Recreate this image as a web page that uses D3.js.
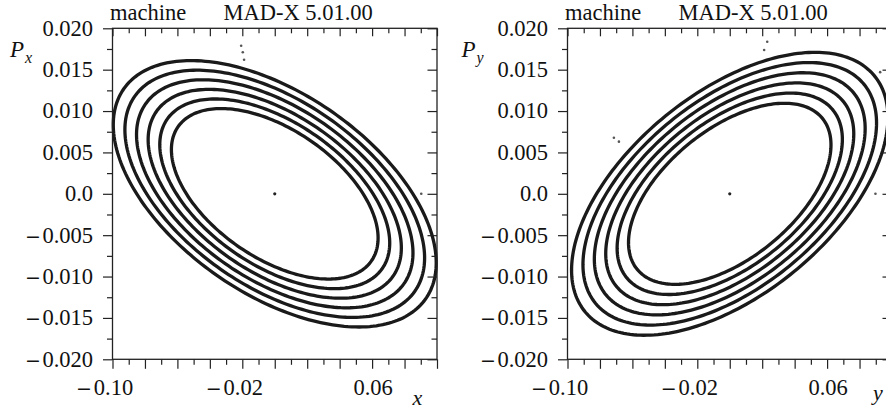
<!DOCTYPE html>
<html><head><meta charset="utf-8">
<script src="https://cdn.jsdelivr.net/npm/d3@7"></script>
<style>
html,body{margin:0;padding:0;background:#fff;overflow:hidden;}
svg text{font-family:"Liberation Serif","Times New Roman",serif;fill:#111;}
</style></head><body>
<svg id="chart" width="886" height="410"></svg>
<script>
// ---------------- data ----------------
const xMajorTicks = [-0.10,-0.08,-0.06,-0.04,-0.02,0.00,0.02,0.04,0.06,0.08,0.10];
const xMinorTicks = [-0.09,-0.07,-0.05,-0.03,-0.01,0.01,0.03,0.05,0.07,0.09];
const xTickLabels = [-0.10,-0.02,0.06];
const xTickText   = ["0.10","0.02","0.06"];
const yMajorTicks = [0.020,0.015,0.010,0.005,0.0,-0.005,-0.010,-0.015,-0.020];
const yMinorTicks = [0.0175,0.0125,0.0075,0.0025,-0.0025,-0.0075,-0.0125,-0.0175];
const yTickText   = ["0.020","0.015","0.010","0.005","0.0","0.005","0.010","0.015","0.020"];
const titleMachine = "machine";
const titleCode = "MAD-X 5.01.00";
const planeNames = ["x","y"];
// relative amplitudes of the six tracked particles (innermost -> outermost)
const ringAmplitude = [0.64,0.712,0.784,0.856,0.928,1.0];
const twissBeta  = [7.23, 6.775];
const twissAlpha = [0.606, -0.641];
const outerEmittance = [0.00137, 0.001403];
// isolated tracking points (centre particle and scattered turns)
const strayX = [[0.0,-0.0207,-0.0197,-0.0189,0.0903],
                [0.0,0.0231,0.0212,-0.0714,-0.0683,0.0927,0.0898]];
const strayP = [[0.0,0.0179,0.0171,0.0162,0.0],
                [0.0,0.01838,0.01737,0.00678,0.0063,0.0147,0.0]];

// ---------------- layout ----------------
const svg = d3.select("#chart");
const panelLeft = [112.5, 567.5];
const pLabelX = [10, 461.5];
const plotTop = 28.3, plotW = 324.5, plotH = 331;
const ink = "#1a1a1a";
const phases = d3.range(0, 360, 1.5).map(d => d*Math.PI/180);

planeNames.forEach((plane, i) => {
  const L = panelLeft[i];
  const sx = d3.scaleLinear().domain([-0.10, 0.10]).range([L, L+plotW]);
  const sy = d3.scaleLinear().domain([-0.020, 0.020]).range([plotTop+plotH, plotTop]);
  const g = svg.append("g");

  // rings
  const beta = twissBeta[i], alpha = twissAlpha[i];
  const line = d3.line().x(d => sx(d[0])).y(d => sy(d[1])).curve(d3.curveLinearClosed);
  ringAmplitude.forEach(a => {
    const eps = outerEmittance[i]*a*a;
    const pts = phases.map(ph => [Math.sqrt(eps*beta)*Math.cos(ph),
                                  -Math.sqrt(eps/beta)*(alpha*Math.cos(ph)+Math.sin(ph))]);
    g.append("path").attr("d", line(pts)).attr("fill","none")
      .attr("stroke", ink).attr("stroke-width", 3.3);
  });

  // stray points
  strayX[i].forEach((xv, k) => {
    g.append("circle").attr("cx", sx(xv)).attr("cy", sy(strayP[i][k]))
      .attr("r", k === 0 ? 1.6 : 1.3).attr("fill", k === 0 ? "#222" : "#555");
  });

  // axes ticks
  const tickStyle = sel => { sel.select(".domain").remove();
    sel.selectAll(".tick line").attr("stroke", "#222").attr("stroke-width", 1.2);
    sel.selectAll(".tick text").remove(); };
  const bottomY = plotTop+plotH, rightX = L+plotW;
  g.append("g").attr("transform",`translate(0,${bottomY})`)
    .call(d3.axisBottom(sx).tickValues(xMajorTicks).tickSize(9.5).tickFormat("")).call(tickStyle);
  g.append("g").attr("transform",`translate(0,${bottomY})`)
    .call(d3.axisBottom(sx).tickValues(xMinorTicks).tickSize(5.5).tickFormat("")).call(tickStyle);
  g.append("g").attr("transform",`translate(0,${plotTop})`)
    .call(d3.axisTop(sx).tickValues(xMajorTicks).tickSize(-8).tickFormat("")).call(tickStyle);
  g.append("g").attr("transform",`translate(0,${plotTop})`)
    .call(d3.axisTop(sx).tickValues(xMinorTicks).tickSize(-5).tickFormat("")).call(tickStyle);
  g.append("g").attr("transform",`translate(${L},0)`)
    .call(d3.axisLeft(sy).tickValues(yMajorTicks).tickSize(9.5).tickFormat("")).call(tickStyle);
  g.append("g").attr("transform",`translate(${L},0)`)
    .call(d3.axisLeft(sy).tickValues(yMinorTicks).tickSize(5.5).tickFormat("")).call(tickStyle);
  g.append("g").attr("transform",`translate(${rightX},0)`)
    .call(d3.axisRight(sy).tickValues(yMajorTicks).tickSize(-9.5).tickFormat("")).call(tickStyle);
  g.append("g").attr("transform",`translate(${rightX},0)`)
    .call(d3.axisRight(sy).tickValues(yMinorTicks).tickSize(-5.5).tickFormat("")).call(tickStyle);

  // frame
  g.append("rect").attr("x", L).attr("y", plotTop).attr("width", plotW).attr("height", plotH)
    .attr("fill","none").attr("stroke","#222").attr("stroke-width",1.3);

  // y tick labels
  yMajorTicks.forEach((v, k) => {
    const t = g.append("text").attr("x", L-19.5).attr("y", sy(v)).attr("dy","0.33em")
      .attr("text-anchor","end").style("font-size","22.5px");
    if (v < 0) t.append("tspan").style("font-family","'DejaVu Serif'").style("font-size","19px").text("\u2212");
    t.append("tspan").attr("dx", v < 0 ? 1.5 : 0).text(yTickText[k]);
  });

  // x tick labels (number centred on tick, minus hanging left)
  xTickLabels.forEach((v, k) => {
    const t = g.append("text").attr("x", sx(v)+1).attr("y", bottomY+35.7)
      .attr("text-anchor","middle").style("font-size","22.5px").text(xTickText[k]);
    if (v < 0) {
      const w = t.node().getComputedTextLength();
      g.append("text").attr("x", sx(v)+1-w/2-2).attr("y", bottomY+35.7)
        .attr("text-anchor","end").style("font-family","'DejaVu Serif'").style("font-size","19px").text("\u2212");
    }
  });

  // titles
  g.append("text").attr("x", L-2.5).attr("y", 20).style("font-size","22.5px").text(titleMachine);
  g.append("text").attr("x", L+111).attr("y", 20).style("font-size","22.5px").text(titleCode);

  // axis labels
  const pl = g.append("text").attr("x", pLabelX[i]).attr("y", 57).style("font-style","italic").style("font-size","23px");
  pl.append("tspan").text("P");
  pl.append("tspan").attr("dy", 6).attr("dx", 1).style("font-size","16px").text(plane);
  g.append("text").attr("x", i === 0 ? L+300 : L+305.5).attr("y", i === 0 ? 405 : 400)
    .style("font-style","italic").style("font-size","22px").text(plane);
});
</script>
</body></html>
